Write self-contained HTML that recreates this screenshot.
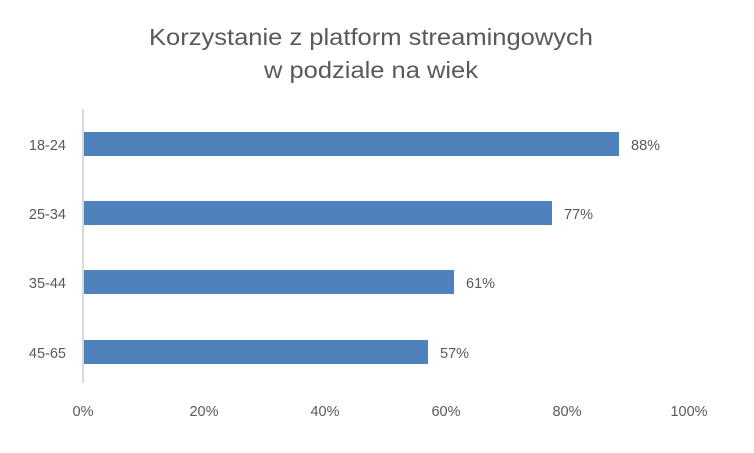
<!DOCTYPE html>
<html><head><meta charset="utf-8"><style>
body{margin:0;background:#fff}
svg text{font-family:"Liberation Sans",sans-serif;fill:#595959}
</style></head><body>
<svg width="754" height="448" xmlns="http://www.w3.org/2000/svg">
<rect width="754" height="448" fill="#fff"/>
<text x="371" y="45" font-size="23" text-anchor="middle" textLength="444" lengthAdjust="spacingAndGlyphs">Korzystanie z platform streamingowych</text>
<text x="371" y="78" font-size="23" text-anchor="middle" textLength="214" lengthAdjust="spacingAndGlyphs">w podziale na wiek</text>
<line x1="83" y1="109" x2="83" y2="383" stroke="#d9d9d9" stroke-width="2"/>
<g fill="#4f81bd">
<rect x="84" y="132" width="535" height="24"/>
<rect x="84" y="201" width="468" height="24"/>
<rect x="84" y="270" width="370" height="24"/>
<rect x="84" y="340" width="344" height="24"/>
</g>
<g font-size="14.5">
<text x="631" y="150">88%</text>
<text x="564" y="219">77%</text>
<text x="466" y="288">61%</text>
<text x="440" y="358">57%</text>
<g text-anchor="end">
<text x="66" y="150">18-24</text>
<text x="66" y="219">25-34</text>
<text x="66" y="288">35-44</text>
<text x="66" y="358">45-65</text>
</g>
<g text-anchor="middle">
<text x="83" y="416">0%</text>
<text x="204" y="416">20%</text>
<text x="325" y="416">40%</text>
<text x="446" y="416">60%</text>
<text x="567" y="416">80%</text>
<text x="689" y="416">100%</text>
</g>
</g>
</svg>
</body></html>
